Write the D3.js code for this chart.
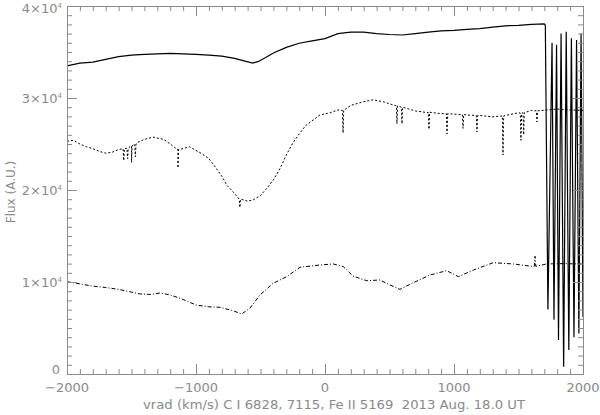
<html lang="en"><head>
<meta charset="utf-8">
<title>Flux vs vrad</title>
<script src="https://cdn.jsdelivr.net/npm/d3@7"></script>
<style>
  body { margin: 0; background: #fff; }
  text { font-family: "DejaVu Sans", sans-serif; fill: #8a8a8a; white-space: pre; }
</style>
</head>
<body>
<script>
// chart size and plot box
var w = 600, h = 415;
var padL = 67, padR = 583, padT = 6, padB = 374;

// top spectrum (solid) : velocity, flux
var solidV = [-2000,-1900,-1800,-1700,-1600,-1500,-1400,-1300,-1200,-1100,-1000,-900,-800,-700,-620,-560,-520,-460,-400,-300,-200,-100,0,100,200,300,400,500,600,700,800,900,1000,1100,1200,1300,1400,1500,1600,1700,1708,
  1728,1760,1775,1795,1810,1830,1850,1870,1890,1910,1930,1950,1968,1985,2000];
var solidF = [33500,33800,33900,34200,34500,34650,34750,34800,34850,34800,34750,34650,34550,34300,34000,33800,33950,34400,34900,35500,35950,36200,36450,37000,37150,37150,37000,36900,36850,37000,37150,37300,37350,37450,37550,37700,37850,37900,38000,38050,37900,
  7000,36000,5900,35800,3700,37000,800,37200,2600,36500,4000,36300,4400,37000,6200];

// middle spectrum (dashed) : continuum points
var midV = [-2000,-1950,-1900,-1850,-1800,-1750,-1700,-1650,-1600,-1550,-1500,-1450,-1400,-1333,-1250,-1200,-1140,-1100,-1050,-1000,-950,-900,-850,-800,-760,-700,-650,-605,-560,-500,-450,-400,-350,-300,-250,-200,-150,-93,-40,40,100,200,300,372,450,527,600,700,800,900,1000,1100,1200,1300,1400,1500,1600,1720,1800,1900,2000];
var midF = [25300,25400,25000,24700,24500,24200,24000,24100,24400,24500,24800,25200,25500,25750,25500,25000,24400,24500,24700,24300,23900,23400,22500,21500,20500,19600,19000,18800,18900,19400,20200,21100,22300,23800,25100,26100,27000,27600,28150,28400,28700,29200,29600,29800,29600,29250,28900,28600,28400,28300,28250,28150,28100,27950,28100,28400,28650,28700,28800,28700,28650];
// middle spectrum absorption lines : position, continuum there, bottom
var midLineV = [-1560,-1530,-1500,-1470,-1140,-660,140,558,597,806,946,1070,1178,1380,1519,1540,1643];
var midLineC = [24500,24550,24800,25000,24400,19000,28650,29150,29000,28450,28300,28200,28100,28050,28350,28400,28600];
var midLineF = [23200,23400,23000,23600,22400,18100,26200,27200,27200,26600,26100,26700,26300,23800,25400,26000,27400];

// bottom spectrum (dash-dot)
var lowV = [-2000,-1900,-1800,-1700,-1600,-1500,-1434,-1350,-1280,-1200,-1100,-1000,-900,-814,-713,-646,-581,-504,-403,-297,-194,-39,64,142,217,323,426,478,581,685,814,943,1034,1150,1305,1460,1615,1622,1628,1634,1718,1850,2000];
var lowF = [10030,9800,9550,9400,9200,8900,8700,8650,8800,8600,8100,7500,7300,7250,6880,6520,7170,8590,9850,10580,11600,11850,11960,11670,10650,10140,10220,9850,9200,9930,10760,11230,10580,11300,12100,11960,11680,11700,12800,11700,11960,12000,11950];

// ticks
var xMajor = [-2000,-1000,0,1000,2000];
var yMajor = [0,10000,20000,30000,40000];
var yLabels = ["0","1×10","2×10","3×10","4×10"];
var xTitle = "vrad (km/s) C I 6828, 7115, Fe II 5169  2013 Aug. 18.0 UT";
var yTitle = "Flux (A.U.)";

var x = d3.scaleLinear().domain([-2000, 2000]).range([padL, padR]);
var y = d3.scaleLinear().domain([0, 40000]).range([padB, padT]);

var svg = d3.select("body").append("svg").attr("width", w).attr("height", h);

// data lines
var line = d3.line().x(function(d) { return x(d[0]); }).y(function(d) { return y(d[1]); });

var midPts = midV.map(function(v, i) { return [v, midF[i]]; });
midLineV.forEach(function(v, i) {
  midPts.push([v - 5, midLineC[i]], [v, midLineF[i]], [v + 5, midLineC[i]]);
});
midPts.sort(function(a, b) { return a[0] - b[0]; });

svg.append("path")
   .attr("d", line(lowV.map(function(v, i) { return [v, lowF[i]]; })))
   .attr("fill", "none").attr("stroke", "#000").attr("stroke-width", 1)
   .attr("stroke-dasharray", "4,2,1,2");

svg.append("path")
   .attr("d", line(midPts))
   .attr("fill", "none").attr("stroke", "#000").attr("stroke-width", 1)
   .attr("stroke-dasharray", "2,2");

svg.append("path")
   .attr("d", line(solidV.map(function(v, i) { return [v, solidF[i]]; })))
   .attr("fill", "none").attr("stroke", "#000").attr("stroke-width", 1.2);

// axes (IDL style box, ticks inside)
var axisCol = "#8a8a8a";
function styleAxis(g) {
  g.select(".domain").attr("stroke", axisCol);
  g.selectAll("line").attr("stroke", axisCol);
  g.selectAll("text").remove();
}
var xMinor = d3.range(-2000, 2001, 100);
var yMinor = d3.range(0, 40001, 1000);

[[padB, d3.axisBottom], [padT, d3.axisTop]].forEach(function(a) {
  svg.append("g").attr("transform", "translate(0," + a[0] + ")")
     .call(a[1](x).tickValues(xMinor).tickSize(-5).tickSizeOuter(0)).call(styleAxis);
  svg.append("g").attr("transform", "translate(0," + a[0] + ")")
     .call(a[1](x).tickValues(xMajor).tickSize(-10).tickSizeOuter(0)).call(styleAxis);
});
[[padL, d3.axisLeft], [padR, d3.axisRight]].forEach(function(a) {
  svg.append("g").attr("transform", "translate(" + a[0] + ",0)")
     .call(a[1](y).tickValues(yMinor).tickSize(-5).tickSizeOuter(0)).call(styleAxis);
  svg.append("g").attr("transform", "translate(" + a[0] + ",0)")
     .call(a[1](y).tickValues(yMajor).tickSize(-10).tickSizeOuter(0)).call(styleAxis);
});

// tick labels
svg.selectAll(".xl").data(xMajor).enter().append("text")
   .attr("x", function(d) { return x(d); }).attr("y", padB + 18)
   .attr("text-anchor", "middle").attr("font-size", 13)
   .text(function(d) { return d < 0 ? "\u2212" + Math.abs(d) : d; });

var yl = svg.selectAll(".yl").data(yMajor).enter().append("text")
   .attr("x", function(d) { return d === 0 ? padL - 7 : padL - 5; })
   .attr("y", function(d) { return d === 0 ? y(d) : d === 40000 ? y(d) + 7 : y(d) + 5; })
   .attr("text-anchor", "end").attr("font-size", 13);
yl.append("tspan").text(function(d, i) { return yLabels[i]; });
yl.filter(function(d) { return d !== 0; }).append("tspan")
   .attr("dy", -5).attr("font-size", 7).text("4");

// titles
svg.append("text").attr("x", 143).attr("y", 409).attr("font-size", 12)
   .attr("textLength", 382).attr("lengthAdjust", "spacingAndGlyphs").text(xTitle);
svg.append("text").attr("transform", "translate(15,192) rotate(-90)")
   .attr("text-anchor", "middle").attr("font-size", 12).text(yTitle);
</script>
</body></html>
